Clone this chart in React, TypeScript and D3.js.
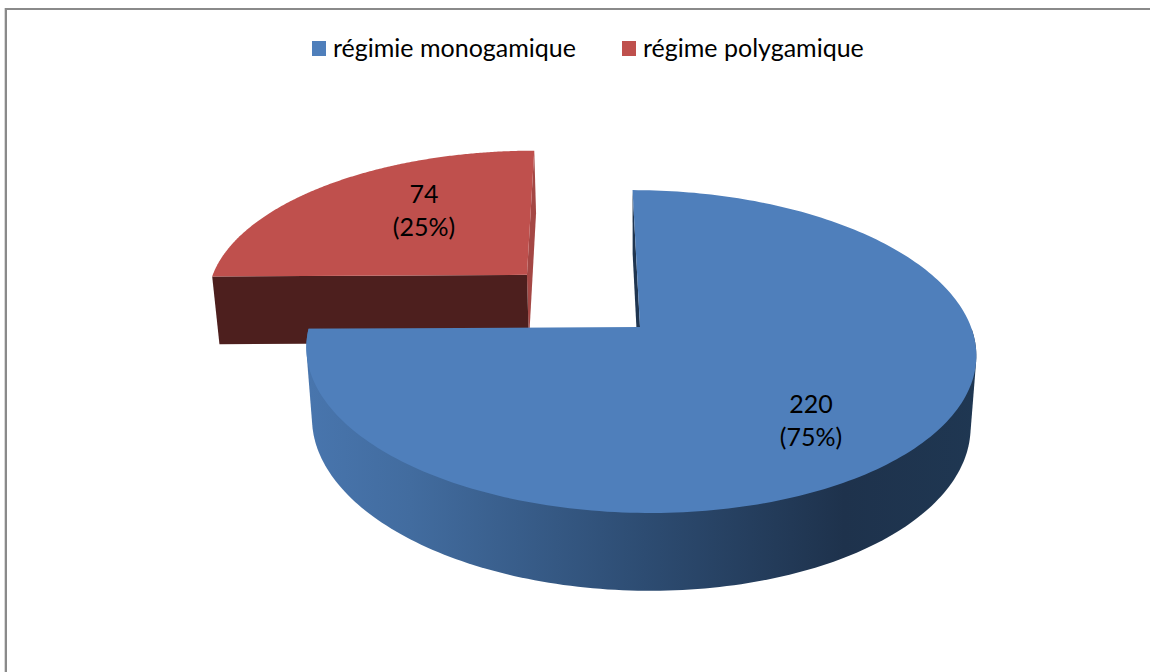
import React from "react";
import * as d3 from "d3";

const categories = ["régimie monogamique", "régime polygamique"];
const values = [220, 74];
const percents = ["(75%)", "(25%)"];
const explode = [0, 0.5];

const topColors = ["#4f7fbb", "#bf504d"];
const redWall = "#a44744";
const redFront = "#4d1f1e";
const innerWall = "#1f3550";
const wallStops: [number, string][] = [
  [0, "#4875ad"],
  [0.15, "#426c9f"],
  [0.5, "#2d4c72"],
  [0.8, "#1e324c"],
  [1, "#1f3752"],
];

const width = 1150;
const height = 672;

// pie layout ground plane -> screen, slightly perspective like the old 3D office charts
const cx = 640;
const cy = 327;
const rx = 331;
const ry = 157.7;
const persp = 0.152;
const skew = 8.6;

const project = (u: number, v: number): [number, number] => {
  const f = 1 / (1 - persp * v);
  return [cx + (rx * u + skew * v) * f, cy + ry * v * f];
};

// bottom rim of the extrusion
const drop = ([x, y]: [number, number]): [number, number] => [
  cx + (x - cx) * 0.983,
  y + 70 + (y - cy) * 0.042,
];

const line = d3.line<[number, number]>();

export default function App() {
  const pie = d3.pie<number>().sort(null).startAngle(0).endAngle(2 * Math.PI);
  const arcs = pie(values);

  const slices = arcs.map((a, i) => {
    const mid = (a.startAngle + a.endAngle) / 2;
    const ox = Math.sin(mid) * explode[i];
    const oy = -Math.cos(mid) * explode[i];
    const nudge = i === 1 ? [1.5, 0.5] : [0, 0];
    const pt = (u: number, v: number): [number, number] => {
      const p = project(u + ox, v + oy);
      return [p[0] + nudge[0], p[1] + nudge[1]];
    };
    const apex = pt(0, 0);
    const steps = d3.range(0, 241).map((k) => a.startAngle + ((a.endAngle - a.startAngle) * k) / 240);
    const rim = steps.map((ang) => pt(Math.sin(ang), -Math.cos(ang)));
    return { apex, rim };
  });

  const blue = slices[0];
  const red = slices[1];
  const redFirst = red.rim[0]; // left corner
  const redLast = red.rim[red.rim.length - 1]; // top corner

  // outer wall: hull of the front half of the rim and its dropped copy, so the
  // silhouette runs tangent between the two ellipses
  const front = blue.rim.filter((p) => p[1] >= cy);
  const wallHull = d3.polygonHull([...front, ...front.map(drop)]) as [number, number][];

  const legendX = [312, 622];

  return (
    <svg
      width={width}
      height={height}
      style={{ position: "absolute", left: 0, top: 0, fontFamily: "Lato, 'Open Sans', sans-serif" }}
    >
      <defs>
        <linearGradient id="wall" gradientUnits="userSpaceOnUse" x1={310} x2={978} y1={0} y2={0}>
          {wallStops.map(([o, c]) => (
            <stop key={o} offset={o} stopColor={c} />
          ))}
        </linearGradient>
      </defs>

      <rect x={0} y={0} width={width} height={height} fill="#fff" />
      <rect x={4} y={8} width={1} height={height} fill="#d9d9d9" />
      <rect x={5} y={8} width={2} height={height} fill="#8a8a8a" />
      <rect x={5} y={8} width={width} height={2} fill="#8a8a8a" />

      {/* exploded slice */}
      <path d={line([red.apex, redLast, drop(redLast), drop(red.apex)])! + "Z"} fill={redWall} />
      <path d={line([red.apex, redFirst, drop(redFirst), drop(red.apex)])! + "Z"} fill={redFront} />
      <path d={line([red.apex, ...red.rim])! + "Z"} fill={topColors[1]} />

      {/* main slice */}
      <path d={line(wallHull)! + "Z"} fill="url(#wall)" />
      <path d={line([blue.apex, blue.rim[0], drop(blue.rim[0]), drop(blue.apex)])! + "Z"} fill={innerWall} />
      <path d={line([blue.apex, ...blue.rim])! + "Z"} fill={topColors[0]} />

      {/* data labels */}
      {arcs.map((a, i) => {
        const pos = i === 0 ? [811, 405] : [424, 195];
        return (
          <text key={i} textAnchor="middle" fontSize={25} fill="#000">
            <tspan x={pos[0]} y={pos[1] + 8}>{a.value}</tspan>
            <tspan x={pos[0]} y={pos[1] + 41}>{percents[i]}</tspan>
          </text>
        );
      })}

      {/* legend */}
      {categories.map((c, i) => (
        <g key={c}>
          <rect x={legendX[i]} y={41} width={14} height={15} fill={topColors[i]} />
          <text x={legendX[i] + 21} y={57} fontSize={25} fill="#000">{c}</text>
        </g>
      ))}
    </svg>
  );
}
